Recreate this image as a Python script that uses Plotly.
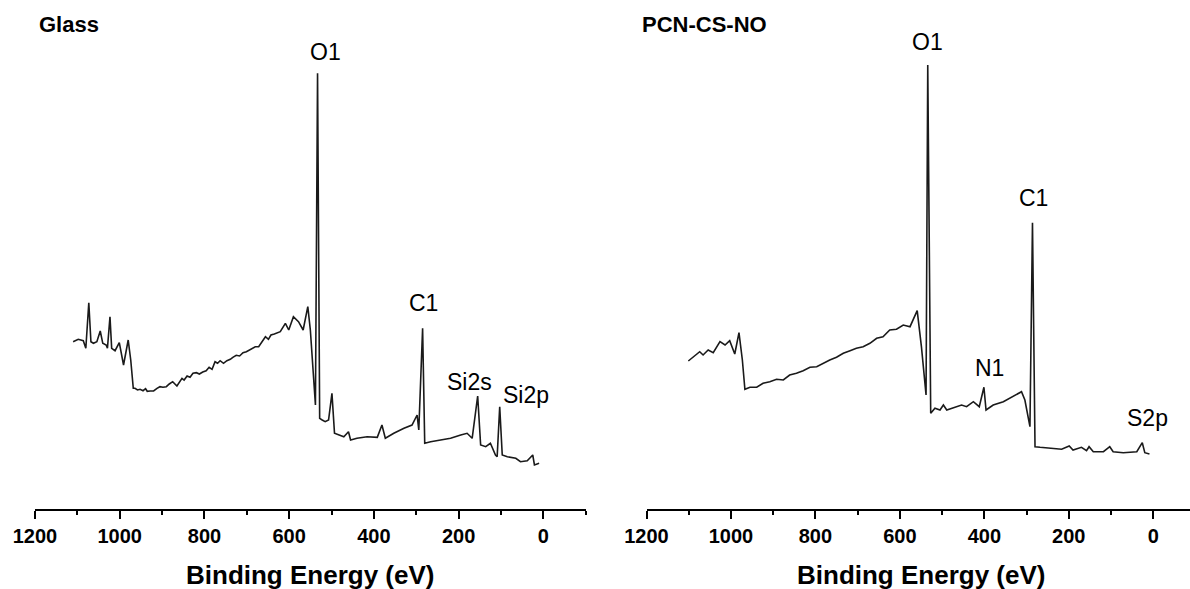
import plotly.graph_objects as go

# XPS survey spectra: binding energy (eV) vs intensity (counts/s)
glass_ev = [1110, 1098, 1086, 1080, 1073, 1068, 1062, 1054, 1046, 1040, 1032, 1029, 1023, 1019,
            1011, 1001, 991, 980, 974, 968,
            964, 958, 952, 945, 939, 935, 928, 920, 912, 905, 898, 890, 883, 875, 865, 859, 853,
            848, 841, 834, 827, 819, 812, 804, 796, 789, 782, 775, 769, 763, 755, 747, 739, 733,
            725, 717, 709, 701, 693, 685, 680, 672, 664, 656, 649, 643, 635, 629, 621,
            609, 601, 590, 578, 567, 556, 550, 538, 533, 528, 522, 515, 507, 499, 493, 483, 471,
            460, 455, 440, 416, 392, 381, 373, 353, 329, 310, 298, 294, 285, 280, 266, 243, 219,
            195, 180, 168, 155, 148, 136, 125, 113, 109, 103, 97, 85, 65, 54, 38, 25, 21, 10]
glass_counts = [16730, 16970, 16830, 16070, 20630, 16730, 16570, 16730, 17800, 16570, 16400, 16070,
                19230, 16070, 15830, 16630, 14400, 16900, 14900, 12070,
                12070, 11900, 11970, 11830, 12030, 11770, 11800, 11800, 12070, 12230, 12170, 12230,
                12500, 12730, 12300, 12730, 13070, 12900, 13300, 13170, 13570, 13630, 13500, 13700,
                13830, 14170, 13970, 14730, 14570, 14830, 14570, 14830, 14970, 15170, 15370, 15300,
                15630, 15730, 15900, 16070, 16230, 16230, 16730, 17230, 16970, 17400, 17500, 17570,
                17730,
                18570, 17900, 19230, 18730, 17900, 20230, 17900, 10400, 43570, 9070, 8900, 8730,
                8900, 11570, 7570, 7400, 7230, 7730, 6900, 7070, 7230, 7170, 8400, 7070, 7570, 8070,
                8400, 9400, 7900, 18070, 6570, 6730, 6900, 7070, 7400, 7570, 7070, 11300, 6400, 6230,
                6570, 5400, 5230, 10230, 5400, 5230, 5070, 4730, 4830, 5400, 4400, 4570]

pcn_ev = [1101, 1090, 1074, 1066, 1054, 1042, 1026, 1014, 1003, 991, 981, 973, 967, 955, 939,
          924, 908, 892, 876, 861, 845, 829, 813, 797, 782, 766, 750, 734, 718, 703, 687,
          671, 655, 640, 624, 608, 592, 576, 559, 549, 538, 534, 527, 517, 505, 497, 489,
          466, 454, 442, 426, 412, 401, 396, 379, 355, 332, 312, 304, 292, 286, 280, 268,
          237, 217, 199, 190, 170, 158, 152, 142, 118, 103, 95, 71, 39, 26, 20, 9]
pcn_counts = [14800, 15170, 15730, 15400, 15900, 15630, 16730, 16400, 16830, 15500, 17630, 14900,
              11970, 12170, 12170, 12570, 12730, 12970, 12900, 13400, 13570, 13830, 14170, 14230,
              14570, 14900, 15170, 15570, 15830, 16070, 16230, 16570, 17070, 17230, 17900, 17970,
              18400, 18230, 19830, 16230, 11400, 44400, 9570, 10070, 9900, 10400, 9900, 10230,
              10400, 10230, 10730, 10230, 12170, 9900, 10400, 10730, 11230, 11730, 10900, 8230,
              28630, 6230, 6170, 6070, 5970, 6300, 5900, 6170, 5830, 6230, 5730, 5730,
              6230, 5730, 5630, 5730, 6630, 5630, 5500]

# Peak assignments: (label, eV, counts) for the text placed above each peak
glass_peaks = [("O1", 515, 45700), ("C1", 282, 20570), ("Si2s", 174, 12730), ("Si2p", 40, 11400)]
pcn_peaks = [("O1", 534, 46750), ("C1", 283, 31100), ("N1", 387, 14100), ("S2p", 13, 9100)]

panel_titles = ["Glass", "PCN-CS-NO"]
x_title = "Binding Energy (eV)"

FONT = "Arial, 'Liberation Sans', sans-serif"
LINE = "#1a1a1a"

fig = go.Figure()
fig.add_trace(go.Scatter(x=glass_ev, y=glass_counts, mode="lines",
                         line=dict(color=LINE, width=1.6), xaxis="x", yaxis="y", hoverinfo="skip"))
fig.add_trace(go.Scatter(x=pcn_ev, y=pcn_counts, mode="lines",
                         line=dict(color=LINE, width=1.6), xaxis="x2", yaxis="y2", hoverinfo="skip"))

xaxis_common = dict(
    showline=True, linecolor="black", linewidth=1.8, automargin=False,
    ticks="outside", ticklen=8, tickwidth=2, tickcolor="black",
    tick0=0, dtick=200, showgrid=False, zeroline=False,
    tickfont=dict(family=FONT, size=20, color="black", weight="bold"),
    minor=dict(ticks="outside", ticklen=4, tickwidth=2, tickcolor="black", dtick=100, tick0=0, showgrid=False),
)
yaxis_common = dict(visible=False, range=[0, 50900], domain=[0, 1], showgrid=False,
                    zeroline=False, automargin=False)

fig.update_layout(
    width=1190, height=589,
    margin=dict(l=0, r=0, t=0, b=80, autoexpand=False),
    paper_bgcolor="white", plot_bgcolor="white",
    showlegend=False,
    xaxis=dict(domain=[35 / 1190, 585.7 / 1190], range=[1200, -100], anchor="y", **xaxis_common),
    xaxis2=dict(domain=[646.5 / 1190, 1.0], range=[1200, -87], anchor="y2", **xaxis_common),
    yaxis=dict(anchor="x", **yaxis_common),
    yaxis2=dict(anchor="x2", **yaxis_common),
)

annotations = []
for label, ev, cnt in glass_peaks:
    annotations.append(dict(x=ev, y=cnt, xref="x", yref="y", text=label, showarrow=False,
                            font=dict(family=FONT, size=23, color="black"), xanchor="center", yanchor="middle"))
for label, ev, cnt in pcn_peaks:
    annotations.append(dict(x=ev, y=cnt, xref="x2", yref="y2", text=label, showarrow=False,
                            font=dict(family=FONT, size=23, color="black"), xanchor="center", yanchor="middle"))

# panel titles (top-left of each panel)
annotations.append(dict(x=37 / 1190, y=1 - 25 / 509, xref="paper", yref="paper", text=panel_titles[0],
                        showarrow=False, xanchor="left", yanchor="middle",
                        font=dict(family=FONT, size=22, color="black", weight="bold")))
annotations.append(dict(x=640 / 1190, y=1 - 25 / 509, xref="paper", yref="paper", text=panel_titles[1],
                        showarrow=False, xanchor="left", yanchor="middle",
                        font=dict(family=FONT, size=22, color="black", weight="bold")))

# x-axis titles under each panel
for xc in [(35 + 585.7) / 2 / 1190, (646.5 + 1195) / 2 / 1190]:
    annotations.append(dict(x=xc, y=(509 - 575) / 509, xref="paper", yref="paper", text=x_title,
                            showarrow=False, xanchor="center", yanchor="middle",
                            font=dict(family=FONT, size=26, color="black", weight="bold")))

fig.update_layout(annotations=annotations)

fig.write_html("out.html", config=dict(displayModeBar=False))
